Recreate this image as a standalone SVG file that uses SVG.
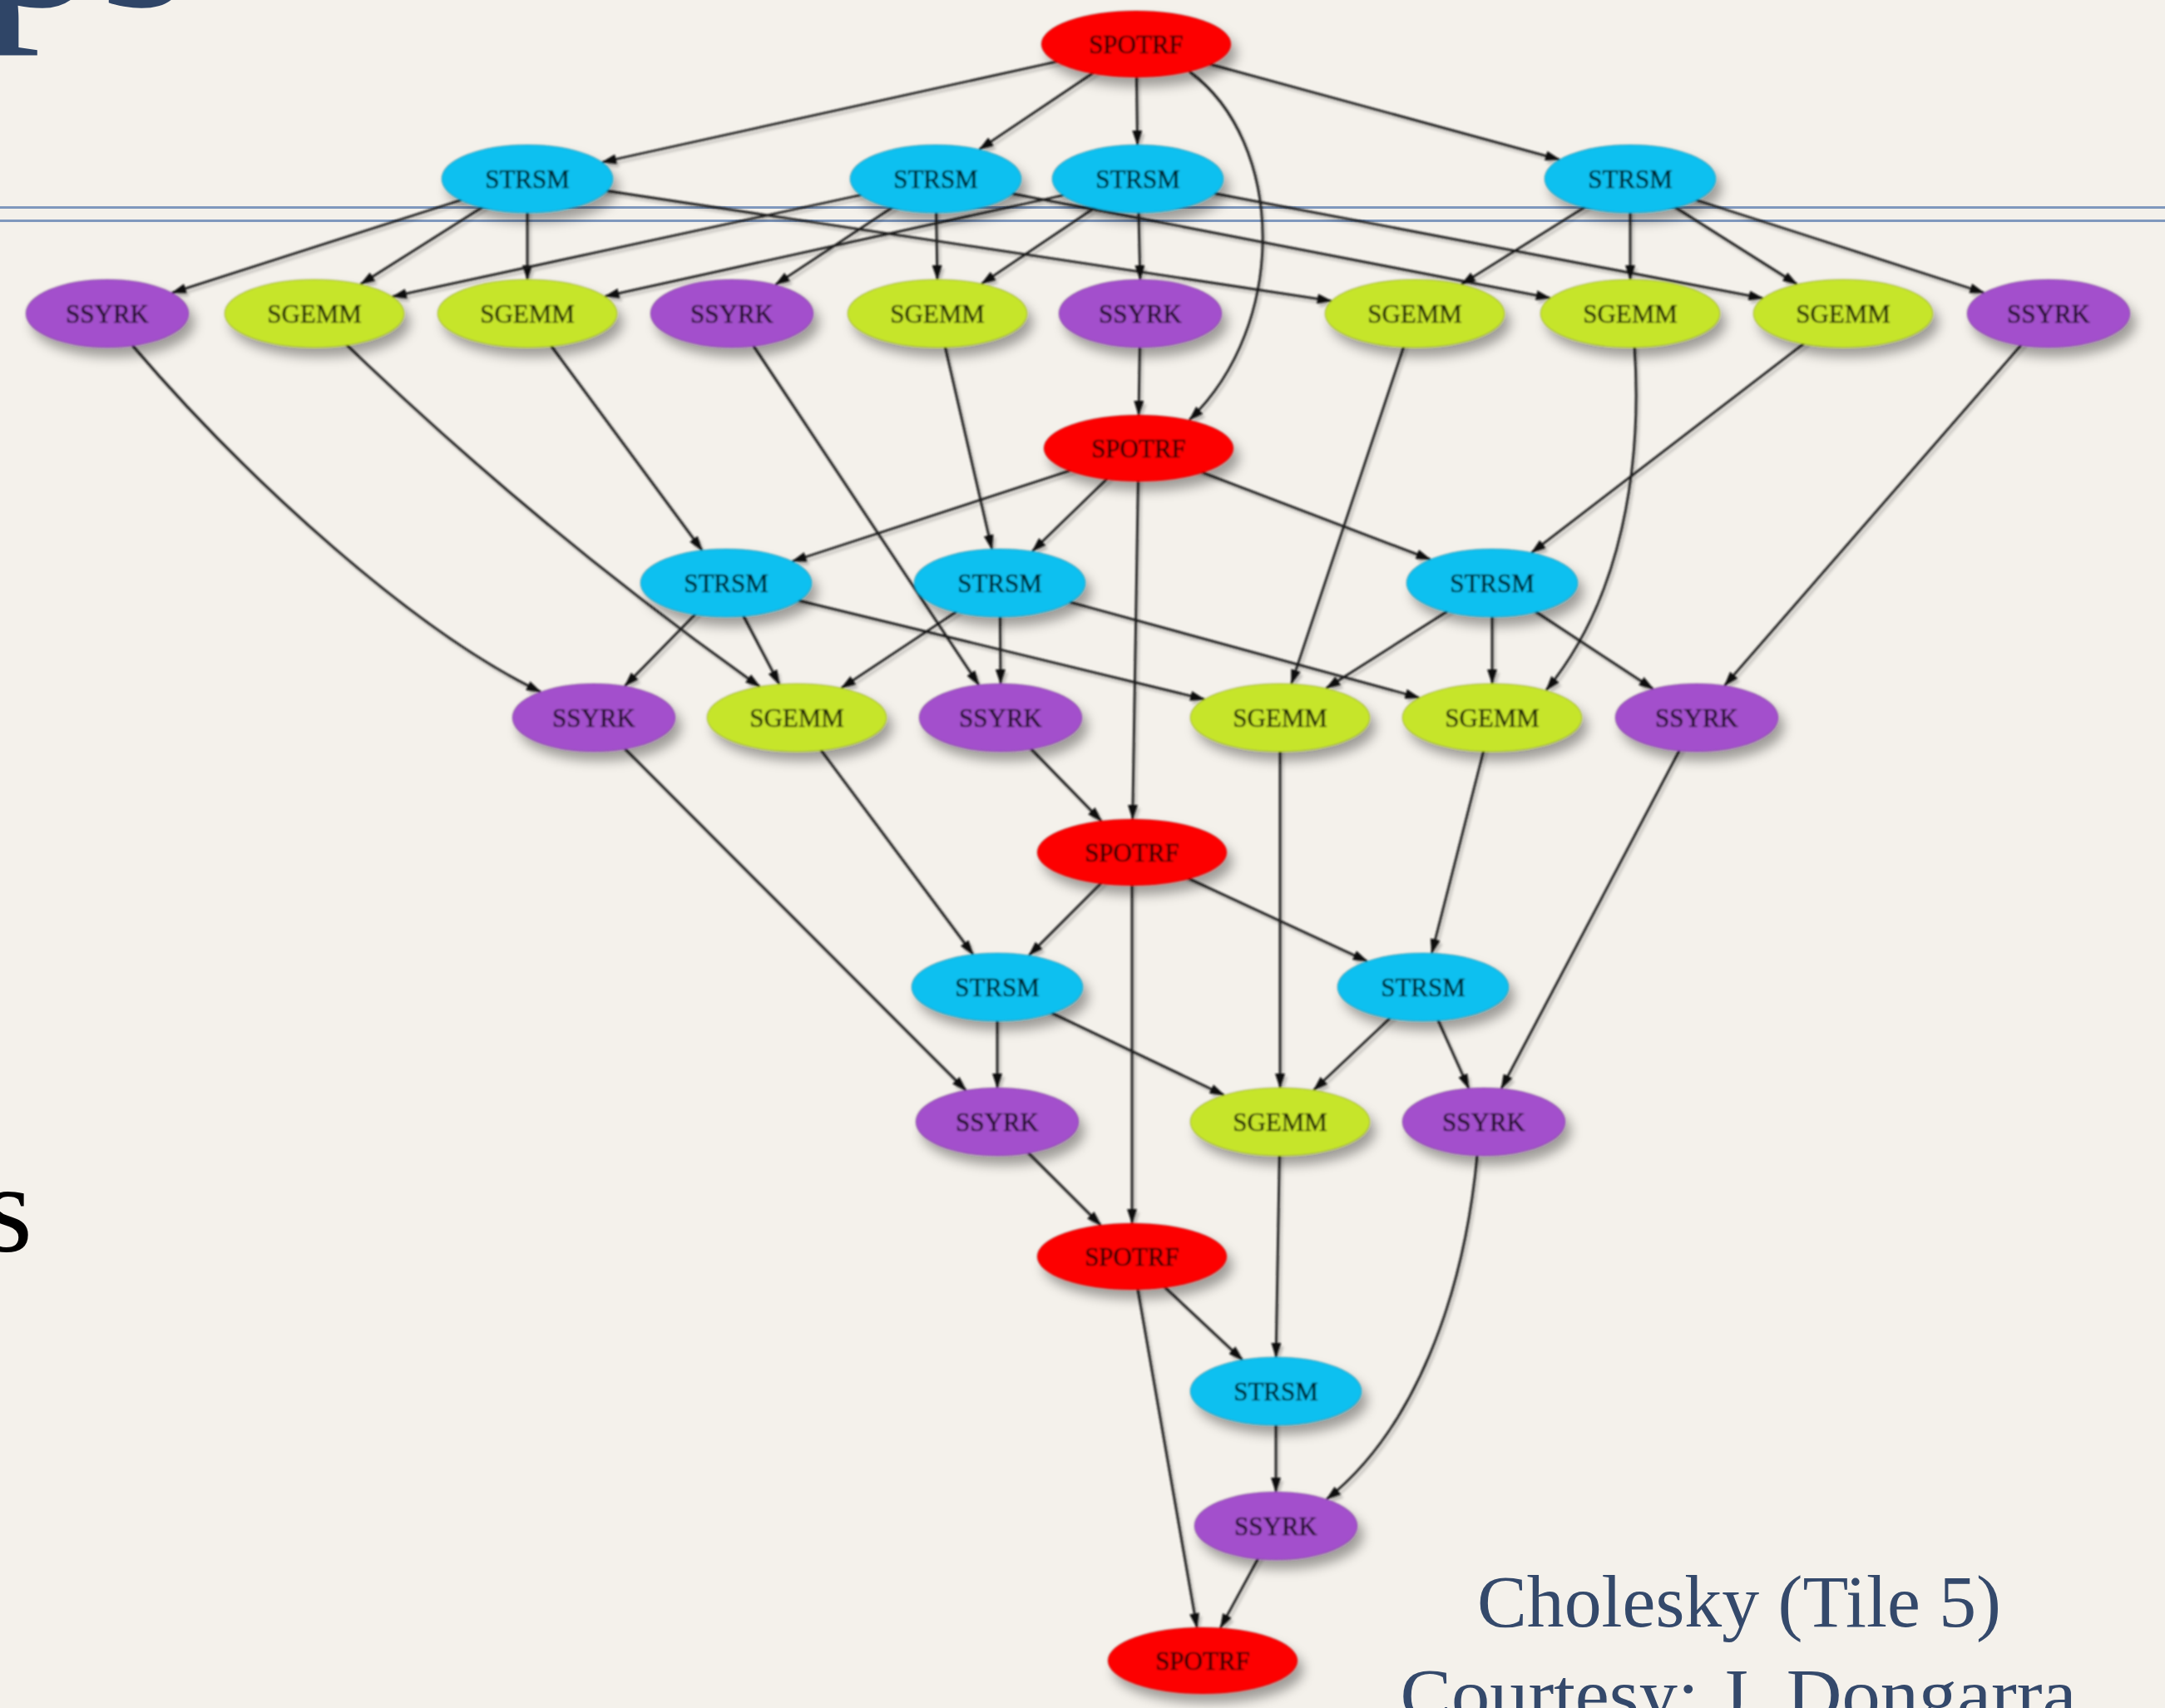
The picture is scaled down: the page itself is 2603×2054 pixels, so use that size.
<svg xmlns="http://www.w3.org/2000/svg" width="2603" height="2054" viewBox="0 0 2603 2054">
  <defs>
    <style>
      .bg { fill: #f4f1eb; }
      .rule { stroke: #7f98bd; stroke-width: 3; }
      .title { font-family: "Liberation Serif", "DejaVu Serif", serif; fill: #2f4567; }
      .body { font-family: "Liberation Serif", "DejaVu Serif", serif; fill: #000; }
      .caption { font-family: "Liberation Serif", "DejaVu Serif", serif; fill: #34496b; font-size: 88px; }
      .node ellipse { stroke: rgba(0,0,0,0.18); stroke-width: 1.5; filter: url(#nodeShadow); }
      .node text { font-family: "Liberation Serif", "DejaVu Serif", serif; font-size: 31px; text-anchor: middle; fill: #000; fill-opacity: 0.82; stroke: #000; stroke-opacity: 0.5; stroke-width: 0.7; }
      .spotrf ellipse { fill: #fd0606; }
      .strsm ellipse { fill: #0cc0f0; }
      .sgemm ellipse { fill: #c6e52a; }
      .ssyrk ellipse { fill: #a34fcc; }
      #edges path { fill: none; stroke: #1a1a1a; stroke-width: 2.8; marker-end: url(#arrow); }
    </style>
    <filter id="nodeShadow" x="-30%" y="-50%" width="170%" height="220%">
      <feDropShadow dx="7" dy="11" stdDeviation="7" flood-color="#000" flood-opacity="0.35"/>
    </filter>
    <filter id="edgeShadow" x="-5%" y="-5%" width="110%" height="110%">
      <feDropShadow dx="3" dy="4" stdDeviation="1.5" flood-color="#000" flood-opacity="0.22"/>
    </filter>
    <filter id="soft" x="-2%" y="-2%" width="104%" height="104%">
      <feGaussianBlur stdDeviation="0.9"/>
    </filter>
    <marker id="arrow" markerUnits="userSpaceOnUse" markerWidth="18" markerHeight="12" viewBox="0 0 18 12" refX="17" refY="6" orient="auto">
      <path d="M0,0 L18,6 L0,12 z" fill="#111"/>
    </marker>
  </defs>

  <!-- slide background, rules and surrounding slide text -->
  <rect class="bg" x="0" y="0" width="2603" height="2054"/>
  <text class="title" x="-21" y="7" font-size="280">ps</text>
  <line class="rule" x1="0" y1="249.5" x2="2603" y2="249.5"/>
  <line class="rule" x1="0" y1="265.5" x2="2603" y2="265.5"/>
  <text class="body" x="-20" y="1505" font-size="152">s</text>
  <text class="caption" x="2091" y="1956" text-anchor="middle" textLength="630" lengthAdjust="spacingAndGlyphs">Cholesky (Tile 5)</text>
  <text class="caption" x="2090" y="2068" text-anchor="middle" textLength="813" lengthAdjust="spacingAndGlyphs">Courtesy: J. Dongarra</text>

  <!-- task graph: tile Cholesky, 5x5 tiles -->
  <g id="graph" filter="url(#soft)">
  <g id="edges" filter="url(#edgeShadow)">
    <path d="M1366 53 L724 195"/>
    <path d="M1366 53 L1177.5 179.7"/>
    <path d="M1366 53 L1367.5 174"/>
    <path d="M1366 53 L1875 191.8"/>
    <path d="M1430 86 C1545 170 1550 390 1430 505"/>
    <path d="M634 215 L206.8 352.1"/>
    <path d="M634 215 L433.6 341.8"/>
    <path d="M634 215 L634 336"/>
    <path d="M634 215 L1600.7 361.8"/>
    <path d="M1125 215 L471.8 356.7"/>
    <path d="M1125 215 L932.4 342.3"/>
    <path d="M1125 215 L1126.9 336"/>
    <path d="M1125 215 L1863.8 358.3"/>
    <path d="M1368 215 L727.4 356.4"/>
    <path d="M1368 215 L1180.1 341.3"/>
    <path d="M1368 215 L1370.8 336"/>
    <path d="M1368 215 L2119.5 358.6"/>
    <path d="M1960 215 L1757 341.9"/>
    <path d="M1960 215 L1960 336"/>
    <path d="M1960 215 L2160.4 341.8"/>
    <path d="M1960 215 L2385.3 352"/>
    <path d="M1371 377 L1369 499"/>
    <path d="M1369 539 L952.6 675"/>
    <path d="M1369 539 L1241.1 663.1"/>
    <path d="M1369 539 L1719.6 672.6"/>
    <path d="M1369 539 L1361.7 985"/>
    <path d="M634 377 L844 661.7"/>
    <path d="M1127 377 L1192.5 660.2"/>
    <path d="M2216 377 L1841.4 664.6"/>
    <path d="M158 414 C300 580 500 760 650 832"/>
    <path d="M378 377 Q630 625 913.4 825.7"/>
    <path d="M880 377 L1176.7 823.5"/>
    <path d="M1701 377 L1552.6 822.3"/>
    <path d="M1965 415 C1975 560 1950 720 1859 830"/>
    <path d="M2463 377 L2073.5 824.5"/>
    <path d="M873 701 L751.2 825.1"/>
    <path d="M873 701 L936.9 822.8"/>
    <path d="M873 701 L1448.1 840.9"/>
    <path d="M1202 701 L1011.6 827.4"/>
    <path d="M1202 701 L1203 822"/>
    <path d="M1202 701 L1706.4 839"/>
    <path d="M1794 701 L1594.4 827.8"/>
    <path d="M1794 701 L1794 822"/>
    <path d="M1794 701 L1987.4 828.4"/>
    <path d="M1203 863 L1324.1 987.2"/>
    <path d="M1361 1025 L1237.1 1148.9"/>
    <path d="M1361 1025 L1643.8 1155.9"/>
    <path d="M1361 1025 L1361 1471"/>
    <path d="M958 863 L1169.8 1147.7"/>
    <path d="M1794 863 L1721.4 1146.2"/>
    <path d="M1199 1187 L1199 1308"/>
    <path d="M1199 1187 L1471.7 1316.9"/>
    <path d="M1711 1187 L1579.4 1311"/>
    <path d="M1711 1187 L1765.8 1308.7"/>
    <path d="M714 863 L1161.3 1311.2"/>
    <path d="M1539 863 L1539 1308"/>
    <path d="M2040 863 L1805.1 1309"/>
    <path d="M1199 1349 L1323.3 1473.3"/>
    <path d="M1361 1511 L1493.7 1635.3"/>
    <path d="M1361 1511 L1439 1957.1"/>
    <path d="M1539 1349 L1534.1 1632"/>
    <path d="M1776 1390 C1760 1560 1700 1720 1595 1803"/>
    <path d="M1534 1673 L1534 1794"/>
    <path d="M1534 1835 L1467.3 1957.7"/>
  </g>

  <!-- step 0 -->
  <g id="potrf-0" class="node spotrf"><ellipse cx="1366" cy="53" rx="114" ry="40"/><text x="1366" y="64">SPOTRF</text></g>
  <g id="trsm-0-3" class="node strsm"><ellipse cx="634" cy="215" rx="103" ry="41"/><text x="634" y="226">STRSM</text></g>
  <g id="trsm-0-2" class="node strsm"><ellipse cx="1125" cy="215" rx="103" ry="41"/><text x="1125" y="226">STRSM</text></g>
  <g id="trsm-0-1" class="node strsm"><ellipse cx="1368" cy="215" rx="103" ry="41"/><text x="1368" y="226">STRSM</text></g>
  <g id="trsm-0-4" class="node strsm"><ellipse cx="1960" cy="215" rx="103" ry="41"/><text x="1960" y="226">STRSM</text></g>
  <g id="syrk-0-3" class="node ssyrk"><ellipse cx="129" cy="377" rx="98" ry="41"/><text x="129" y="388">SSYRK</text></g>
  <g id="gemm-0-3-2" class="node sgemm"><ellipse cx="378" cy="377" rx="108" ry="41"/><text x="378" y="388">SGEMM</text></g>
  <g id="gemm-0-3-1" class="node sgemm"><ellipse cx="634" cy="377" rx="108" ry="41"/><text x="634" y="388">SGEMM</text></g>
  <g id="syrk-0-2" class="node ssyrk"><ellipse cx="880" cy="377" rx="98" ry="41"/><text x="880" y="388">SSYRK</text></g>
  <g id="gemm-0-2-1" class="node sgemm"><ellipse cx="1127" cy="377" rx="108" ry="41"/><text x="1127" y="388">SGEMM</text></g>
  <g id="syrk-0-1" class="node ssyrk"><ellipse cx="1371" cy="377" rx="98" ry="41"/><text x="1371" y="388">SSYRK</text></g>
  <g id="gemm-0-4-3" class="node sgemm"><ellipse cx="1701" cy="377" rx="108" ry="41"/><text x="1701" y="388">SGEMM</text></g>
  <g id="gemm-0-4-2" class="node sgemm"><ellipse cx="1960" cy="377" rx="108" ry="41"/><text x="1960" y="388">SGEMM</text></g>
  <g id="gemm-0-4-1" class="node sgemm"><ellipse cx="2216" cy="377" rx="108" ry="41"/><text x="2216" y="388">SGEMM</text></g>
  <g id="syrk-0-4" class="node ssyrk"><ellipse cx="2463" cy="377" rx="98" ry="41"/><text x="2463" y="388">SSYRK</text></g>

  <!-- step 1 -->
  <g id="potrf-1" class="node spotrf"><ellipse cx="1369" cy="539" rx="114" ry="40"/><text x="1369" y="550">SPOTRF</text></g>
  <g id="trsm-1-3" class="node strsm"><ellipse cx="873" cy="701" rx="103" ry="41"/><text x="873" y="712">STRSM</text></g>
  <g id="trsm-1-2" class="node strsm"><ellipse cx="1202" cy="701" rx="103" ry="41"/><text x="1202" y="712">STRSM</text></g>
  <g id="trsm-1-4" class="node strsm"><ellipse cx="1794" cy="701" rx="103" ry="41"/><text x="1794" y="712">STRSM</text></g>
  <g id="syrk-1-3" class="node ssyrk"><ellipse cx="714" cy="863" rx="98" ry="41"/><text x="714" y="874">SSYRK</text></g>
  <g id="gemm-1-3-2" class="node sgemm"><ellipse cx="958" cy="863" rx="108" ry="41"/><text x="958" y="874">SGEMM</text></g>
  <g id="syrk-1-2" class="node ssyrk"><ellipse cx="1203" cy="863" rx="98" ry="41"/><text x="1203" y="874">SSYRK</text></g>
  <g id="gemm-1-4-3" class="node sgemm"><ellipse cx="1539" cy="863" rx="108" ry="41"/><text x="1539" y="874">SGEMM</text></g>
  <g id="gemm-1-4-2" class="node sgemm"><ellipse cx="1794" cy="863" rx="108" ry="41"/><text x="1794" y="874">SGEMM</text></g>
  <g id="syrk-1-4" class="node ssyrk"><ellipse cx="2040" cy="863" rx="98" ry="41"/><text x="2040" y="874">SSYRK</text></g>

  <!-- step 2 -->
  <g id="potrf-2" class="node spotrf"><ellipse cx="1361" cy="1025" rx="114" ry="40"/><text x="1361" y="1036">SPOTRF</text></g>
  <g id="trsm-2-3" class="node strsm"><ellipse cx="1199" cy="1187" rx="103" ry="41"/><text x="1199" y="1198">STRSM</text></g>
  <g id="trsm-2-4" class="node strsm"><ellipse cx="1711" cy="1187" rx="103" ry="41"/><text x="1711" y="1198">STRSM</text></g>
  <g id="syrk-2-3" class="node ssyrk"><ellipse cx="1199" cy="1349" rx="98" ry="41"/><text x="1199" y="1360">SSYRK</text></g>
  <g id="gemm-2-4-3" class="node sgemm"><ellipse cx="1539" cy="1349" rx="108" ry="41"/><text x="1539" y="1360">SGEMM</text></g>
  <g id="syrk-2-4" class="node ssyrk"><ellipse cx="1784" cy="1349" rx="98" ry="41"/><text x="1784" y="1360">SSYRK</text></g>

  <!-- step 3 -->
  <g id="potrf-3" class="node spotrf"><ellipse cx="1361" cy="1511" rx="114" ry="40"/><text x="1361" y="1522">SPOTRF</text></g>
  <g id="trsm-3-4" class="node strsm"><ellipse cx="1534" cy="1673" rx="103" ry="41"/><text x="1534" y="1684">STRSM</text></g>
  <g id="syrk-3-4" class="node ssyrk"><ellipse cx="1534" cy="1835" rx="98" ry="41"/><text x="1534" y="1846">SSYRK</text></g>

  <!-- step 4 -->
  <g id="potrf-4" class="node spotrf"><ellipse cx="1446" cy="1997" rx="114" ry="40"/><text x="1446" y="2008">SPOTRF</text></g>
  </g>
</svg>
